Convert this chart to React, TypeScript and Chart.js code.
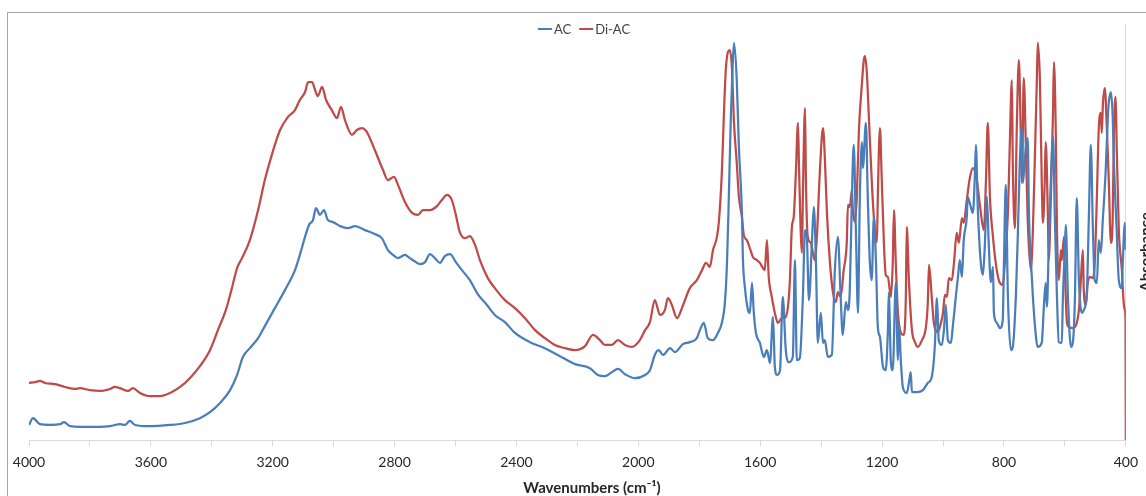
import React, { useEffect, useRef } from "react";
import { Chart, registerables } from "chart.js";

Chart.register(...registerables);

// ---- Data (wavenumbers in cm-1, absorbance in arbitrary units) ----
const acWavenumbers = [
  4000, 3987, 3964, 3931, 3898, 3885, 3865, 3833, 3767, 3734,
  3701, 3685, 3669, 3652, 3603, 3537, 3488, 3439, 3406, 3373,
  3340, 3317, 3298, 3275, 3248, 3226, 3193, 3160, 3127, 3111,
  3094, 3081, 3068, 3058, 3045, 3032, 3019, 3002, 2979, 2953,
  2930, 2897, 2865, 2842, 2822, 2805, 2789, 2766, 2750, 2730,
  2717, 2700, 2684, 2668, 2651, 2635, 2618, 2599, 2579, 2553,
  2527, 2497, 2471, 2438, 2405, 2356, 2307, 2257, 2208, 2159,
  2133, 2110, 2087, 2067, 2044, 2011, 1978, 1962, 1946, 1933,
  1919, 1896, 1880, 1854, 1831, 1808, 1798, 1785, 1772, 1755,
  1739, 1726, 1716, 1709, 1703, 1696, 1690, 1686, 1677, 1670,
  1660, 1657, 1650, 1640, 1634, 1627, 1621, 1614, 1601, 1588,
  1578, 1568, 1558, 1552, 1545, 1535, 1526, 1516, 1506, 1493,
  1486, 1480, 1470, 1460, 1453, 1447, 1440, 1430, 1424, 1417,
  1411, 1401, 1394, 1388, 1378, 1365, 1355, 1345, 1336, 1329,
  1319, 1312, 1306, 1299, 1293, 1286, 1279, 1273, 1266, 1263,
  1253, 1247, 1240, 1234, 1227, 1220, 1214, 1207, 1197, 1188,
  1181, 1178, 1171, 1165, 1155, 1148, 1145, 1138, 1132, 1119,
  1112, 1106, 1102, 1086, 1066, 1050, 1037, 1027, 1020, 1014,
  1004, 997, 991, 984, 974, 968, 958, 951, 945, 938,
  932, 922, 919, 909, 902, 896, 892, 886, 876, 869,
  863, 856, 850, 843, 836, 833, 823, 813, 804, 800,
  794, 787, 777, 771, 761, 754, 748, 741, 738, 728,
  722, 718, 708, 699, 689, 676, 669, 663, 659, 653,
  646, 639, 633, 626, 620, 610, 607, 600, 597, 590,
  580, 574, 567, 561, 554, 544, 538, 528, 521, 515,
  508, 502, 495, 489, 482, 475, 472, 466, 459, 456,
  449, 443, 439, 430, 423, 413, 410, 403, 400,
];
const acAbsorbance = [
  0.038, 0.055, 0.040, 0.038, 0.040, 0.045, 0.035, 0.033, 0.033, 0.035,
  0.040, 0.038, 0.048, 0.038, 0.035, 0.038, 0.043, 0.055, 0.070, 0.093,
  0.125, 0.163, 0.208, 0.230, 0.255, 0.285, 0.330, 0.375, 0.425, 0.463,
  0.508, 0.538, 0.550, 0.580, 0.563, 0.575, 0.550, 0.545, 0.535, 0.530,
  0.535, 0.525, 0.515, 0.505, 0.475, 0.463, 0.455, 0.463, 0.455, 0.445,
  0.440, 0.445, 0.465, 0.455, 0.443, 0.460, 0.465, 0.445, 0.425, 0.400,
  0.365, 0.338, 0.313, 0.295, 0.268, 0.245, 0.230, 0.210, 0.190, 0.180,
  0.163, 0.160, 0.170, 0.178, 0.165, 0.155, 0.163, 0.175, 0.213, 0.225,
  0.213, 0.230, 0.220, 0.240, 0.245, 0.255, 0.275, 0.293, 0.255, 0.250,
  0.268, 0.293, 0.343, 0.443, 0.608, 0.818, 0.943, 0.993, 0.900, 0.733,
  0.568, 0.458, 0.380, 0.325, 0.318, 0.393, 0.318, 0.268, 0.243, 0.208,
  0.225, 0.193, 0.308, 0.183, 0.163, 0.175, 0.358, 0.225, 0.195, 0.208,
  0.450, 0.200, 0.205, 0.358, 0.525, 0.508, 0.350, 0.500, 0.583, 0.443,
  0.243, 0.318, 0.243, 0.250, 0.208, 0.213, 0.425, 0.508, 0.358, 0.263,
  0.345, 0.325, 0.375, 0.608, 0.738, 0.525, 0.318, 0.608, 0.745, 0.680,
  0.793, 0.608, 0.443, 0.400, 0.558, 0.443, 0.283, 0.258, 0.183, 0.175,
  0.275, 0.368, 0.193, 0.175, 0.393, 0.200, 0.293, 0.193, 0.133, 0.118,
  0.143, 0.170, 0.120, 0.120, 0.125, 0.143, 0.158, 0.233, 0.355, 0.250,
  0.238, 0.275, 0.338, 0.250, 0.243, 0.283, 0.358, 0.408, 0.450, 0.408,
  0.500, 0.558, 0.608, 0.583, 0.568, 0.650, 0.738, 0.583, 0.443, 0.413,
  0.483, 0.608, 0.493, 0.395, 0.433, 0.318, 0.293, 0.280, 0.300, 0.443,
  0.638, 0.358, 0.225, 0.233, 0.358, 0.525, 0.693, 0.783, 0.643, 0.733,
  0.755, 0.568, 0.400, 0.293, 0.233, 0.243, 0.333, 0.393, 0.333, 0.483,
  0.650, 0.758, 0.558, 0.358, 0.245, 0.243, 0.343, 0.483, 0.538, 0.358,
  0.233, 0.243, 0.358, 0.605, 0.400, 0.318, 0.325, 0.368, 0.568, 0.738,
  0.525, 0.400, 0.393, 0.500, 0.468, 0.558, 0.593, 0.675, 0.808, 0.843,
  0.870, 0.808, 0.693, 0.525, 0.400, 0.380, 0.443, 0.543, 0.475,
];

const diAcWavenumbers = [
  4000, 3980, 3964, 3947, 3915, 3882, 3849, 3833, 3800, 3767,
  3734, 3718, 3701, 3675, 3659, 3636, 3603, 3570, 3537, 3504,
  3472, 3439, 3406, 3380, 3354, 3334, 3317, 3301, 3275, 3248,
  3226, 3203, 3176, 3150, 3127, 3111, 3094, 3084, 3071, 3061,
  3052, 3038, 3025, 3006, 2989, 2976, 2963, 2940, 2924, 2907,
  2891, 2865, 2838, 2822, 2802, 2789, 2766, 2743, 2723, 2707,
  2684, 2661, 2645, 2628, 2612, 2599, 2586, 2569, 2553, 2536,
  2520, 2494, 2471, 2438, 2405, 2372, 2339, 2307, 2274, 2241,
  2208, 2175, 2149, 2126, 2110, 2087, 2067, 2044, 2021, 1995,
  1978, 1962, 1946, 1929, 1913, 1903, 1890, 1873, 1857, 1831,
  1808, 1791, 1778, 1765, 1755, 1742, 1736, 1726, 1719, 1713,
  1706, 1700, 1693, 1686, 1677, 1670, 1660, 1654, 1644, 1634,
  1624, 1611, 1601, 1591, 1585, 1578, 1572, 1562, 1552, 1542,
  1529, 1519, 1509, 1503, 1496, 1490, 1483, 1476, 1473, 1463,
  1460, 1453, 1450, 1444, 1434, 1427, 1421, 1414, 1404, 1394,
  1388, 1381, 1371, 1361, 1352, 1345, 1336, 1326, 1316, 1312,
  1306, 1299, 1296, 1289, 1283, 1276, 1266, 1260, 1256, 1250,
  1243, 1234, 1227, 1217, 1214, 1207, 1201, 1194, 1188, 1181,
  1171, 1165, 1161, 1155, 1148, 1138, 1129, 1122, 1119, 1112,
  1102, 1092, 1083, 1069, 1056, 1050, 1046, 1037, 1030, 1017,
  1007, 1000, 994, 987, 981, 971, 964, 955, 948, 938,
  932, 922, 912, 902, 889, 879, 866, 859, 853, 846,
  836, 827, 817, 804, 797, 787, 781, 774, 771, 764,
  758, 751, 745, 741, 735, 728, 722, 712, 705, 699,
  692, 689, 682, 676, 672, 666, 663, 656, 653, 646,
  639, 636, 630, 626, 620, 613, 610, 603, 600, 593,
  587, 574, 561, 554, 548, 541, 538, 531, 525, 518,
  508, 502, 495, 489, 482, 479, 475, 469, 462, 456,
  449, 443, 439, 433, 430, 423, 413, 407, 403, 401, 400,
];
const diAcAbsorbance = [
  0.143, 0.145, 0.148, 0.143, 0.140, 0.133, 0.128, 0.130, 0.125, 0.123,
  0.128, 0.133, 0.130, 0.123, 0.130, 0.118, 0.110, 0.110, 0.118, 0.133,
  0.155, 0.185, 0.225, 0.275, 0.325, 0.380, 0.430, 0.455, 0.500, 0.575,
  0.650, 0.713, 0.775, 0.808, 0.825, 0.850, 0.870, 0.895, 0.895, 0.875,
  0.860, 0.883, 0.850, 0.825, 0.805, 0.833, 0.800, 0.763, 0.775, 0.780,
  0.770, 0.725, 0.675, 0.650, 0.658, 0.638, 0.595, 0.568, 0.563, 0.575,
  0.575, 0.585, 0.600, 0.613, 0.600, 0.563, 0.520, 0.505, 0.510, 0.488,
  0.450, 0.405, 0.380, 0.350, 0.330, 0.305, 0.275, 0.255, 0.238, 0.230,
  0.225, 0.235, 0.263, 0.250, 0.238, 0.238, 0.250, 0.238, 0.233, 0.250,
  0.275, 0.295, 0.350, 0.313, 0.325, 0.355, 0.338, 0.305, 0.330, 0.380,
  0.400, 0.425, 0.443, 0.433, 0.475, 0.508, 0.543, 0.668, 0.818, 0.925,
  0.970, 0.975, 0.933, 0.793, 0.693, 0.608, 0.558, 0.513, 0.500, 0.480,
  0.458, 0.450, 0.443, 0.430, 0.425, 0.500, 0.408, 0.358, 0.318, 0.293,
  0.305, 0.305, 0.333, 0.393, 0.533, 0.558, 0.668, 0.793, 0.693, 0.468,
  0.608, 0.830, 0.650, 0.508, 0.493, 0.468, 0.450, 0.508, 0.675, 0.780,
  0.708, 0.568, 0.443, 0.368, 0.345, 0.370, 0.358, 0.425, 0.493, 0.588,
  0.583, 0.625, 0.575, 0.545, 0.608, 0.775, 0.893, 0.950, 0.960, 0.918,
  0.800, 0.650, 0.558, 0.495, 0.608, 0.780, 0.650, 0.493, 0.413, 0.408,
  0.358, 0.443, 0.575, 0.443, 0.318, 0.268, 0.263, 0.358, 0.533, 0.400,
  0.275, 0.245, 0.233, 0.250, 0.283, 0.343, 0.438, 0.358, 0.293, 0.270,
  0.293, 0.318, 0.363, 0.358, 0.405, 0.400, 0.443, 0.518, 0.493, 0.555,
  0.543, 0.600, 0.655, 0.680, 0.650, 0.588, 0.525, 0.650, 0.793, 0.608,
  0.508, 0.443, 0.400, 0.388, 0.443, 0.568, 0.733, 0.900, 0.693, 0.530,
  0.775, 0.950, 0.775, 0.643, 0.905, 0.733, 0.550, 0.425, 0.525, 0.693,
  0.900, 0.993, 0.900, 0.650, 0.543, 0.650, 0.745, 0.568, 0.450, 0.608,
  0.818, 0.945, 0.775, 0.525, 0.400, 0.475, 0.450, 0.508, 0.425, 0.293,
  0.283, 0.280, 0.293, 0.325, 0.393, 0.475, 0.375, 0.338, 0.393, 0.408,
  0.405, 0.443, 0.608, 0.775, 0.818, 0.768, 0.843, 0.880, 0.775, 0.650,
  0.493, 0.558, 0.775, 0.858, 0.733, 0.525, 0.425, 0.343, 0.325, 0.300, 0.0,
];

const seriesLabels = ["AC", "Di-AC"];
const seriesColors = ["#4a7ebb", "#be4b48"];
const labeledTicks = [4000, 3600, 3200, 2800, 2400, 2000, 1600, 1200, 800, 400];
const xAxisTitle = "Wavenumbers (cm\u207B\u00B9)";
const yAxisTitle = "Absorbance";

function zip(xs: number[], ys: number[]) {
  const n = Math.min(xs.length, ys.length);
  const out: { x: number; y: number }[] = [];
  for (let i = 0; i < n; i++) out.push({ x: xs[i], y: ys[i] });
  return out;
}

const legendPlugin = {
  id: "topLegend",
  afterDraw(chart: any) {
    const ctx = chart.ctx as CanvasRenderingContext2D;
    ctx.save();
    ctx.font = "13px Lato, 'Noto Sans', sans-serif";
    const lineW = 14;
    const gapText = 2;
    const gapItem = 8;
    const items = chart.data.datasets.map((ds: any) => ({
      label: ds.label as string,
      color: ds.borderColor as string,
      w: ctx.measureText(ds.label).width,
    }));
    const total =
      items.reduce((s: number, it: any) => s + lineW + gapText + it.w, 0) +
      gapItem * (items.length - 1);
    let x = 584 - total / 2;
    const y = 29;
    ctx.textBaseline = "middle";
    ctx.textAlign = "left";
    for (const it of items) {
      ctx.strokeStyle = it.color;
      ctx.lineWidth = 2;
      ctx.beginPath();
      ctx.moveTo(x, y);
      ctx.lineTo(x + lineW, y);
      ctx.stroke();
      ctx.fillStyle = "#404040";
      ctx.fillText(it.label, x + lineW + gapText, y + 0.5);
      x += lineW + gapText + it.w + gapItem;
    }
    ctx.restore();
  },
};

const axisTitlePlugin = {
  id: "axisTitles",
  afterDraw(chart: any) {
    const ctx = chart.ctx as CanvasRenderingContext2D;
    ctx.save();
    ctx.fillStyle = "#262626";
    ctx.font = "bold 15px Lato, 'Noto Sans', sans-serif";
    ctx.textAlign = "center";
    ctx.textBaseline = "middle";
    ctx.fillText(xAxisTitle, 592, 488);
    ctx.translate(1151, 252);
    ctx.rotate(-Math.PI / 2);
    ctx.textBaseline = "alphabetic";
    ctx.fillText(yAxisTitle, 0, 0);
    ctx.restore();
  },
};

export default function App() {
  const ref = useRef<HTMLCanvasElement | null>(null);

  useEffect(() => {
    if (!ref.current) return;
    Chart.defaults.font.family = "Lato, 'Noto Sans', sans-serif";
    const chart = new Chart(ref.current, {
      type: "line",
      data: {
        datasets: [
          {
            label: seriesLabels[0],
            data: zip(acWavenumbers, acAbsorbance),
            borderColor: seriesColors[0],
            backgroundColor: seriesColors[0],
            borderWidth: 2.25,
            pointRadius: 0,
            cubicInterpolationMode: "monotone",
            fill: false,
          },
          {
            label: seriesLabels[1],
            data: zip(diAcWavenumbers, diAcAbsorbance),
            borderColor: seriesColors[1],
            backgroundColor: seriesColors[1],
            borderWidth: 2.25,
            pointRadius: 0,
            cubicInterpolationMode: "monotone",
            fill: false,
          },
        ],
      },
      options: {
        responsive: false,
        animation: false,
        devicePixelRatio: 1,
        layout: { padding: { left: 29, right: 20, top: 24, bottom: 17 } },
        plugins: {
          legend: { display: false },
          tooltip: { enabled: false },
          title: { display: false },
        },
        scales: {
          x: {
            type: "linear",
            reverse: true,
            min: 400,
            max: 4000,
            position: "bottom",
            grid: {
              display: true,
              drawOnChartArea: false,
              drawTicks: true,
              tickLength: 6,
              color: "#d9d9d9",
            },
            border: { display: true, color: "#d9d9d9", width: 1 },
            ticks: {
              stepSize: 200,
              autoSkip: false,
              maxRotation: 0,
              padding: 8,
              color: "#262626",
              font: { size: 14 },
              callback: (v: any) => (labeledTicks.includes(Number(v)) ? String(v) : ""),
            },
          },
          y: {
            type: "linear",
            position: "right",
            min: 0,
            max: 1.04,
            grid: { display: true, drawOnChartArea: false, drawTicks: false, color: "#d9d9d9" },
            border: { display: true, color: "#d9d9d9", width: 1 },
            ticks: { display: false },
          },
        },
      },
      plugins: [legendPlugin, axisTitlePlugin],
    });
    return () => chart.destroy();
  }, []);

  return (
    <div
      style={{
        position: "absolute",
        left: 0,
        top: 0,
        width: 1146,
        height: 496,
        overflow: "hidden",
        background: "#ffffff",
      }}
    >
      <div
        style={{
          position: "absolute",
          left: 7,
          top: 12,
          width: 1300,
          height: 700,
          border: "1px solid #a6a6a6",
          boxSizing: "border-box",
        }}
      />
      <canvas
        ref={ref}
        width={1146}
        height={496}
        style={{ position: "absolute", left: 0, top: 0 }}
      />
    </div>
  );
}
